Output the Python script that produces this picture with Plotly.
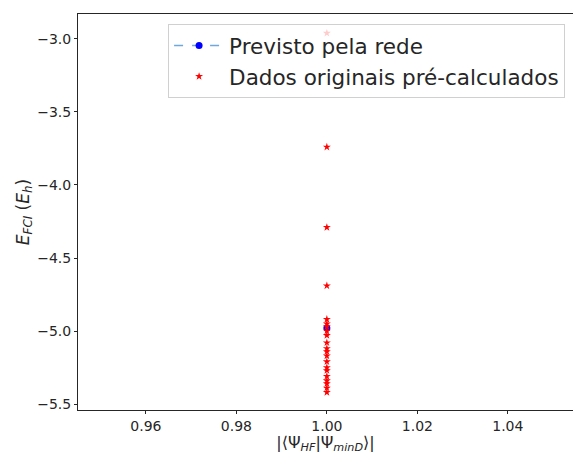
import plotly.graph_objects as go

# Data
x_orig = [1.0] * 21
y_orig = [-2.96, -3.74, -4.29, -4.69,
          -4.92, -4.95, -4.97, -5.00, -5.03, -5.08, -5.12, -5.14, -5.17,
          -5.21, -5.25, -5.27, -5.31, -5.34, -5.36, -5.39, -5.42]
x_pred = [1.0]
y_pred = [-4.98]
y_ticks = [-3.0, -3.5, -4.0, -4.5, -5.0, -5.5]
x_ticks = [0.96, 0.98, 1.00, 1.02, 1.04]

font_family = "DejaVu Sans"
dark = "#262626"

fig = go.Figure()
fig.add_trace(go.Scatter(
    x=x_pred, y=y_pred, mode="lines+markers", name="Previsto pela rede",
    line=dict(color="#6fa8dc", dash="dash", width=1.5),
    marker=dict(color="blue", size=7, symbol="circle"),
    legendgroup="a",
))
fig.add_trace(go.Scatter(
    x=x_orig, y=y_orig, mode="markers", name="Dados originais pré-calculados",
    marker=dict(color="red", size=6, symbol="star"),
    legendgroup="b",
))

fig.update_layout(
    width=573, height=454,
    margin=dict(l=78, r=0, t=14, b=44),
    paper_bgcolor="white", plot_bgcolor="white",
    font=dict(family=font_family, color=dark),
    showlegend=True,
    legend=dict(
        x=0.984, y=0.975, xanchor="right", yanchor="top",
        bgcolor="rgba(255,255,255,0.8)", bordercolor="#d0d0d0", borderwidth=1,
        font=dict(size=21.5, family=font_family, color=dark),
        traceorder="grouped", tracegroupgap=0, itemwidth=50,
    ),
    xaxis=dict(
        range=[0.945, 1.0544], tickvals=x_ticks,
        tickformat=".2f", showgrid=False, zeroline=False,
        showline=True, linecolor=dark, linewidth=1, mirror=True,
        ticks="outside", ticklen=3, tickcolor=dark,
        tickfont=dict(size=14, family=font_family, color=dark),
        title=dict(text="|⟨Ψ<sub><i>HF</i></sub>|Ψ<sub><i>minD</i></sub>⟩|",
                   font=dict(size=16, family=font_family, color=dark), standoff=3),
    ),
    yaxis=dict(
        range=[-5.541, -2.829], tickvals=y_ticks,
        ticktext=["\u22123.0", "\u22123.5", "\u22124.0", "\u22124.5", "\u22125.0", "\u22125.5"],
        showgrid=False, zeroline=False,
        showline=True, linecolor=dark, linewidth=1, mirror=False,
        ticks="outside", ticklen=3, tickcolor=dark,
        tickfont=dict(size=14, family=font_family, color=dark),
        title=dict(text="<i>E</i><sub><i>FCI</i></sub> (<i>E</i><sub><i>h</i></sub>)",
                   font=dict(size=17, family=font_family, color=dark), standoff=3),
    ),
)

fig.write_html("out.html")
